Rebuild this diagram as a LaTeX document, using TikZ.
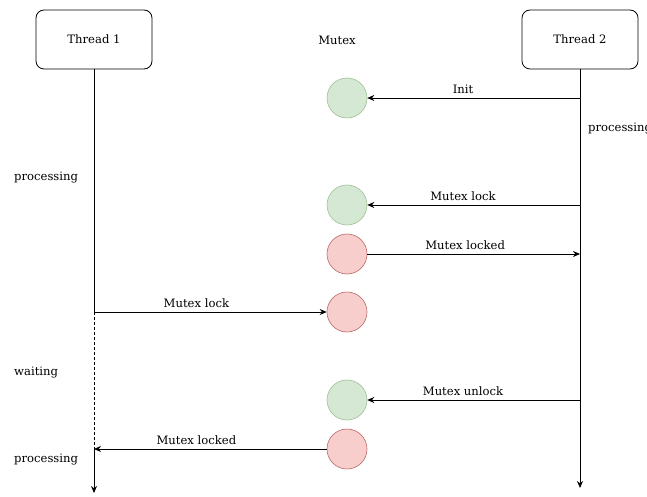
\documentclass[tikz,border=0pt]{standalone}
\usepackage{fontspec}
\setmainfont{DejaVu Serif}
\usetikzlibrary{arrows.meta}
\definecolor{freefill}{HTML}{D5E8D4}
\definecolor{freeline}{HTML}{9DBF93}
\definecolor{lockfill}{HTML}{F8CECC}
\definecolor{lockline}{HTML}{B86A66}
\begin{document}
\begin{tikzpicture}[x=1pt,y=-1pt,
  font=\fontsize{11.6}{13}\selectfont,
  threadbox/.style={draw, line width=0.8pt, rounded corners=8pt,
    minimum width=116pt, minimum height=59pt, inner sep=0pt},
  free/.style={circle, draw=freeline, fill=freefill, line width=0.6pt,
    minimum size=40pt, inner sep=0pt},
  locked/.style={circle, draw=lockline, fill=lockfill, line width=0.6pt,
    minimum size=40pt, inner sep=0pt},
  life/.style={line width=0.8pt},
  msg/.style={line width=0.8pt, -{Stealth[length=7pt,width=6pt]}},
  lbl/.style={above, inner sep=0pt, yshift=4pt},
  state/.style={anchor=west, inner sep=0pt}]
\useasboundingbox (0,0) rectangle (647,497);

% thread heads and the mutex column title
\node[threadbox] (t1) at (94,39.5) {Thread 1};
\node[threadbox] (t2) at (580,39.5) {Thread 2};
\node (mx) at (337,40) {Mutex};

% points on the lifelines
\coordinate (a1) at (94,312);
\coordinate (a2) at (94,449);
\coordinate (a3) at (94,493);
\coordinate (b1) at (580,98);
\coordinate (b2) at (580,205);
\coordinate (b3) at (580,254);
\coordinate (b4) at (580,400);
\coordinate (b5) at (580,488);

% mutex states
\node[free]   (m1) at (347,98)  {};
\node[free]   (m2) at (347,205) {};
\node[locked] (m3) at (347,254) {};
\node[locked] (m4) at (347,312) {};
\node[free]   (m5) at (347,400) {};
\node[locked] (m6) at (347,449) {};

% lifelines
\draw[life] (t1.south) -- (a1);
\draw[life, densely dashed, line width=0.6pt] (a1) -- (a2);
\draw[life, -{Stealth[length=7pt,width=6pt]}] (a2) -- (a3);
\draw[life, -{Stealth[length=7pt,width=6pt]}] (t2.south) -- (b5);

% messages
\draw[msg] (b1) -- node[lbl, pos=0.55] {Init} (m1);
\draw[msg] (b2) -- node[lbl, pos=0.55] {Mutex lock} (m2);
\draw[msg] (m3) -- node[lbl, pos=0.46] {Mutex locked} (b3);
\draw[msg] (a1) -- node[lbl, pos=0.44] {Mutex lock} (m4);
\draw[msg] (b4) -- node[lbl, pos=0.55] {Mutex unlock} (m5);
\draw[msg] (m6) -- node[lbl, pos=0.56] {Mutex locked} (a2);

% thread states
\node[state] (s1) at (14,177.5) {processing};
\node[state] (s2) at (14,372.5) {waiting};
\node[state] (s3) at (14,459.5) {processing};
\node[state] (s4) at (588,129) {processing};
\end{tikzpicture}
\end{document}
